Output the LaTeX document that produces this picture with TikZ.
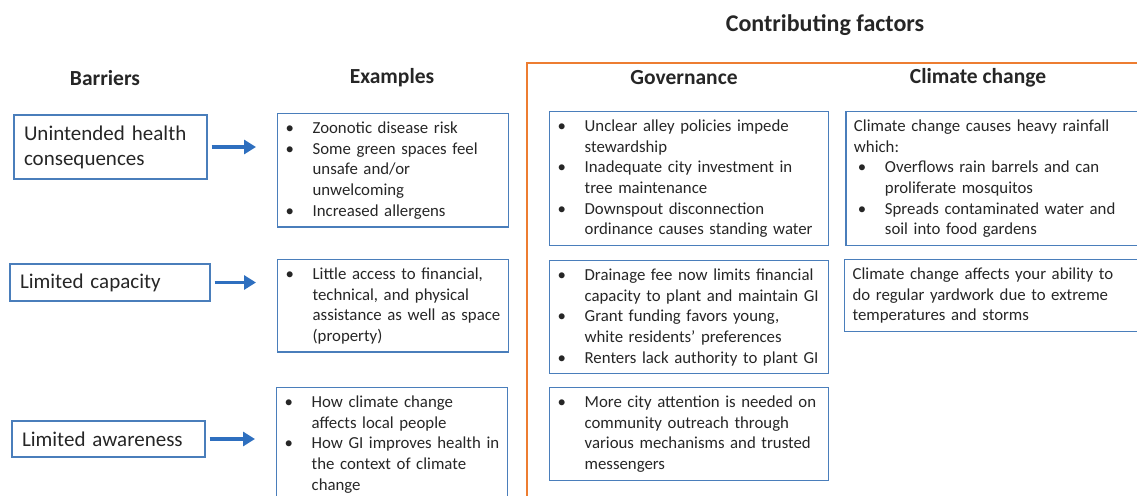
\documentclass[tikz,border=0pt]{standalone}
\usepackage{fontspec}
\setmainfont{Carlito}
\usetikzlibrary{arrows.meta, positioning}
\definecolor{boxblue}{HTML}{4A7EBB}
\definecolor{arrowblue}{HTML}{2E6FBF}
\definecolor{factororange}{HTML}{ED7D31}
\definecolor{inktext}{HTML}{262626}
\newcommand{\bitem}[1]{\hangindent=31pt\hangafter=1\noindent\makebox[31pt][l]{\hspace{4pt}\textbullet}#1\par}

\begin{document}
\begin{tikzpicture}[x=1pt, y=-1pt, font=\fontsize{16.8}{20.7}\selectfont, text=inktext]
\tikzset{
  barrier/.style={draw=boxblue, line width=1.3pt, align=left, inner xsep=10pt, inner ysep=4pt, font=\fontsize{21}{25}\selectfont},
  examplebox/.style={draw=boxblue, line width=1.3pt, align=left, anchor=north west, inner xsep=4pt, inner ysep=8pt},
  header/.style={font=\fontsize{21.5}{25}\selectfont\bfseries},
  link/.style={-{Triangle[length=12pt,width=14pt]}, line width=3.7pt, arrowblue, shorten <=4pt, shorten >=21pt}
}
\useasboundingbox (0,0) rectangle (1137,495);
\clip (0,0) rectangle (1137,495);
% headers
\node[header, font=\fontsize{24}{28}\selectfont\bfseries] (contrib) at (825,25) {Contributing factors};
\node[header] (hbar) at (105,78) {Barriers};
\node[header] (hex) at (392,78) {Examples};
\node[header] (hgov) at (684,78) {Governance};
\node[header] (hclm) at (978,78) {Climate change};
% frame around contributing factors
\draw[factororange, line width=2.8pt] (527,63) rectangle (1200,560);
% barriers
\node[barrier, text width=173pt, minimum height=64pt] (bar1) at (110.5,147) {Unintended health\\consequences};
\node[barrier, text width=180pt, minimum height=37pt] (bar2) at (110,282.5) {Limited capacity};
\node[barrier, text width=173pt, minimum height=36pt] (bar3) at (108.5,439) {Limited awareness};
% examples
\node[examplebox, text width=223pt] (ex1) at (277,113) {%
\bitem{Zoonotic disease risk}
\bitem{Some green spaces feel\newline unsafe and/or\newline unwelcoming}
\bitem{Increased allergens}};
\node[examplebox, text width=223pt] (ex2) at (277,259) {%
\bitem{Little access to financial,\newline technical, and physical\newline assistance as well as space\newline (property)}};
\node[examplebox, text width=223pt] (ex3) at (276,387) {%
\bitem{How climate change\newline affects local people}
\bitem{How GI improves health in\newline the context of climate\newline change}};
% governance
\node[examplebox, text width=271pt] (gov1) at (549,111) {%
\bitem{Unclear alley policies impede\newline stewardship}
\bitem{Inadequate city investment in\newline tree maintenance}
\bitem{Downspout disconnection\newline ordinance causes standing water}};
\node[examplebox, text width=271pt] (gov2) at (549,260) {%
\bitem{Drainage fee now limits financial\newline capacity to plant and maintain GI}
\bitem{Grant funding favors young,\newline white residents’ preferences}
\bitem{Renters lack authority to plant GI}};
\node[examplebox, text width=271pt] (gov3) at (549,387) {%
\bitem{More city attention is needed on\newline community outreach through\newline various mechanisms and trusted\newline messengers}};
% climate change
\node[examplebox, text width=284pt, inner xsep=8pt] (clm1) at ([xshift=16pt]gov1.north east) {%
\noindent Climate change causes heavy rainfall\newline which:\par
\bitem{Overflows rain barrels and can\newline proliferate mosquitos}
\bitem{Spreads contaminated water and\newline soil into food gardens}};
\node[examplebox, text width=284pt, inner xsep=8pt] (clm2) at (844,259) {%
\noindent Climate change affects your ability to\newline do regular yardwork due to extreme\newline temperatures and storms\par};
% arrows
\foreach \b/\e in {bar1/ex1, bar2/ex2, bar3/ex3}
  \draw[link] (\b.east) -- (\e.west |- \b.east);
\end{tikzpicture}
\end{document}
